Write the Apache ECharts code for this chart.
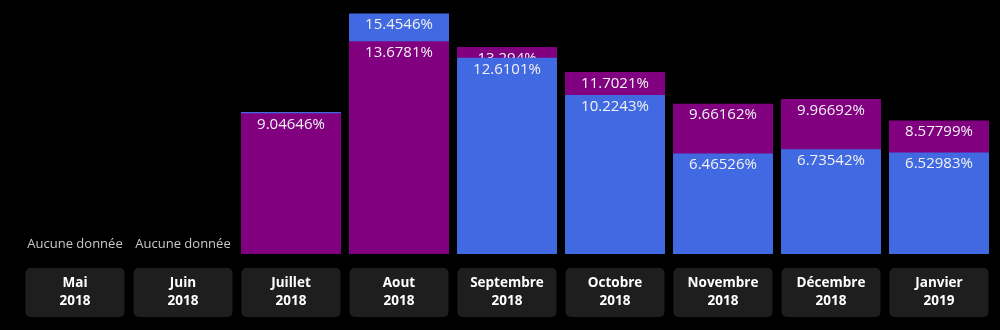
<!DOCTYPE html>
<html>
<head>
<meta charset="utf-8">
<style>
  html, body { margin: 0; padding: 0; background: #000; }
  #chart { width: 1000px; height: 330px; }
</style>
<script src="https://cdn.jsdelivr.net/npm/echarts@6/dist/echarts.min.js"></script>
</head>
<body>
<div id="chart"></div>
<script>
// Monthly rates, two measures per month (null = no data for that month)
const months = ['Mai', 'Juin', 'Juillet', 'Aout', 'Septembre', 'Octobre', 'Novembre', 'Décembre', 'Janvier'];
const years = ['2018', '2018', '2018', '2018', '2018', '2018', '2018', '2018', '2019'];
const blueValues = [null, null, 9.12, 15.4546, 12.6101, 10.2243, 6.46526, 6.73542, 6.52983];
const purpleValues = [null, null, 9.04646, 13.6781, 13.294, 11.7021, 9.66162, 9.96692, 8.57799];

const BLUE = '#4169E1';
const PURPLE = '#800080';
const NO_DATA = 'Aucune donnée';

const categories = months.map((m, i) => m + '\n' + years[i]);

// The taller value of each month sits behind, the shorter one in front
const backData = [];
const frontData = [];
const emptyData = [];
months.forEach((m, i) => {
  const b = blueValues[i], p = purpleValues[i];
  if (b == null && p == null) {
    backData.push('-'); frontData.push('-'); emptyData.push(0);
    return;
  }
  emptyData.push('-');
  const blueTall = b >= p;
  backData.push({ value: blueTall ? b : p, itemStyle: { color: blueTall ? BLUE : PURPLE } });
  frontData.push({ value: blueTall ? p : b, itemStyle: { color: blueTall ? PURPLE : BLUE } });
});

const valueLabel = {
  show: true,
  position: 'insideTop',
  distance: 4,
  color: '#f2f2f2',
  fontFamily: 'Open Sans',
  fontSize: 15,
  formatter: p => p.value + '%'
};

const chart = echarts.init(document.getElementById('chart'), null, { renderer: 'canvas' });
chart.setOption({
  backgroundColor: '#000',
  animation: false,
  grid: { left: 21, right: 7, top: 5, bottom: 76 },
  xAxis: {
    type: 'category',
    data: categories,
    axisLine: { show: false },
    axisTick: { show: false },
    axisLabel: {
      interval: 0,
      margin: 14,
      color: '#ffffff',
      fontFamily: 'Open Sans',
      fontWeight: 'bold',
      fontSize: 13.5,
      lineHeight: 18,
      width: 99,
      align: 'center',
      padding: [6, 0, 7, 0],
      backgroundColor: '#1e1e1e',
      borderRadius: 5
    }
  },
  yAxis: {
    type: 'value',
    min: 0,
    max: 16,
    show: false,
    splitLine: { show: false }
  },
  series: [
    {
      type: 'bar',
      z: 2,
      barWidth: 100,
      barGap: '-100%',
      data: backData,
      label: valueLabel
    },
    {
      type: 'bar',
      z: 3,
      barWidth: 100,
      barGap: '-100%',
      data: frontData,
      label: valueLabel
    },
    {
      type: 'bar',
      z: 4,
      barWidth: 100,
      barGap: '-100%',
      data: emptyData,
      itemStyle: { color: 'transparent' },
      label: {
        show: true,
        position: 'top',
        distance: 3,
        color: '#c8c8c8',
        fontFamily: 'Open Sans',
        fontSize: 13,
        formatter: () => NO_DATA
      }
    }
  ]
});
</script>
</body>
</html>
